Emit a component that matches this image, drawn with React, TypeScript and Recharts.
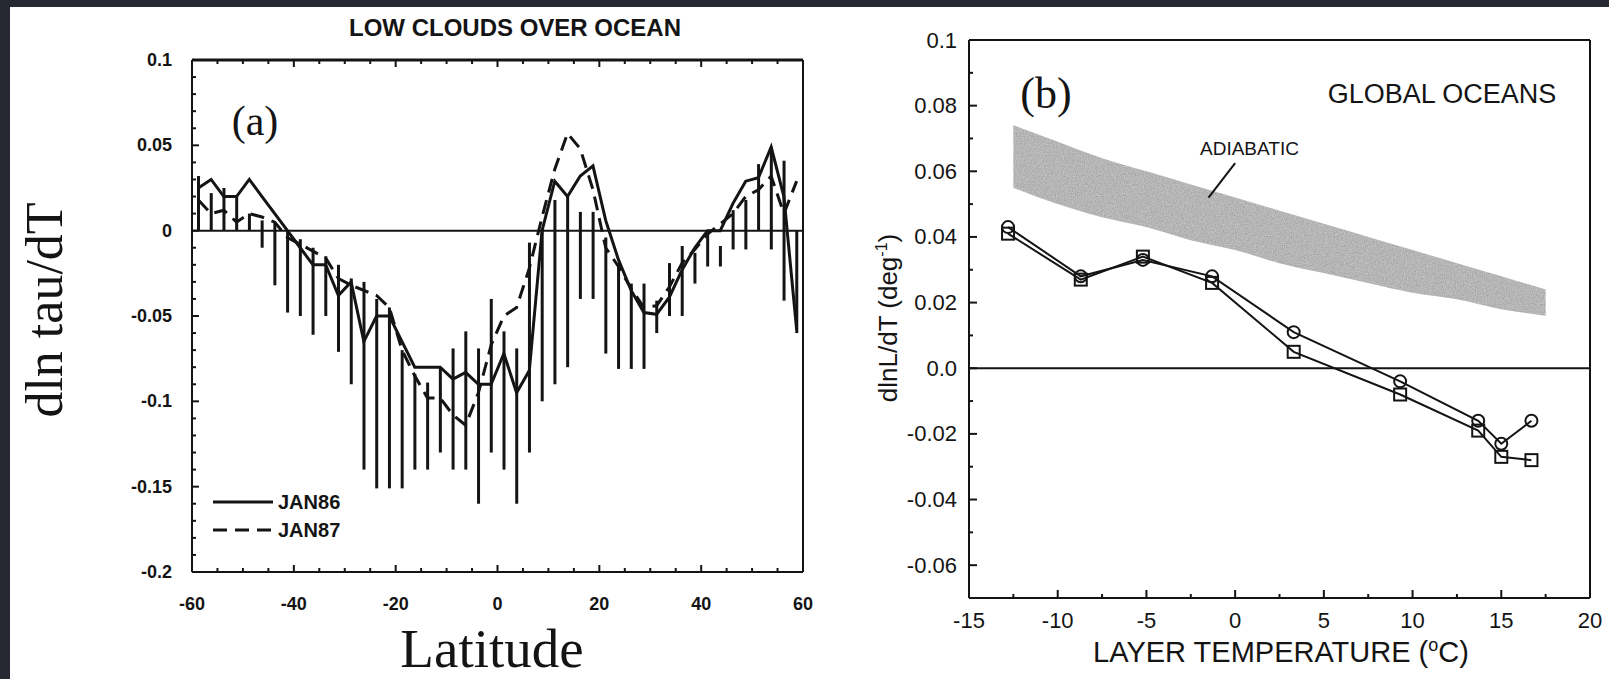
import React from "react";
import { ComposedChart, Line, Bar, Area, XAxis, YAxis, ReferenceLine, Legend } from "recharts";

// ---- panel (a): low clouds over ocean ----
const latitudes = [
  -58.75, -56.25, -53.75, -51.25, -48.75, -46.25, -43.75, -41.25, -38.75, -36.25, -33.75, -31.25,
  -28.75, -26.25, -23.75, -21.25, -18.75, -16.25, -13.75, -11.25, -8.75, -6.25, -3.75, -1.25,
  1.25, 3.75, 6.25, 8.75, 11.25, 13.75, 16.25, 18.75, 21.25, 23.75, 26.25, 28.75,
  31.25, 33.75, 36.25, 38.75, 41.25, 43.75, 46.25, 48.75, 51.25, 53.75, 56.25, 58.75,
];
const jan86 = [
  0.025, 0.03, 0.02, 0.02, 0.03, 0.02, 0.01, 0.0, -0.01, -0.02, -0.02, -0.038,
  -0.03, -0.065, -0.05, -0.05, -0.065, -0.08, -0.08, -0.08, -0.087, -0.083, -0.09, -0.09,
  -0.072, -0.095, -0.082, 0.0, 0.029, 0.02, 0.032, 0.038, 0.006, -0.017, -0.035, -0.048,
  -0.049, -0.039, -0.023, -0.01, 0.0, 0.0, 0.016, 0.029, 0.031, 0.049, 0.02, -0.058,
];
const jan87 = [
  0.018, 0.01, 0.012, 0.005, 0.01, 0.008, 0.005, -0.004, -0.008, -0.012, -0.016, -0.028,
  -0.032, -0.035, -0.038, -0.045, -0.07, -0.085, -0.098, -0.098, -0.108, -0.114, -0.095, -0.067,
  -0.05, -0.045, -0.022, 0.008, 0.036, 0.057, 0.048, 0.024, -0.01, -0.021, -0.034, -0.045,
  -0.044, -0.033, -0.019, -0.011, -0.002, 0.004, 0.01, 0.02, 0.024, 0.032, 0.01, 0.029,
];
const rangeTop = [
  0.032, 0.022, 0.025, 0.02, 0.01, 0.006, 0.005, 0.0, -0.005, -0.01, -0.015, -0.02,
  -0.028, -0.03, -0.04, -0.045, -0.07, -0.084, -0.089, -0.08, -0.069, -0.059, -0.069, -0.04,
  -0.059, -0.069, -0.007, 0.001, 0.018, 0.02, 0.011, 0.011, -0.004, -0.019, -0.031, -0.031,
  -0.041, -0.019, -0.009, -0.013, -0.002, -0.009, 0.012, 0.018, 0.039, 0.049, 0.041, 0.0,
];
const rangeBottom = [
  0.0, 0.0, 0.0, 0.0, 0.0, -0.01, -0.032, -0.048, -0.05, -0.061, -0.05, -0.071,
  -0.09, -0.14, -0.151, -0.151, -0.151, -0.14, -0.14, -0.13, -0.14, -0.14, -0.16, -0.13,
  -0.14, -0.16, -0.13, -0.1, -0.09, -0.08, -0.04, -0.04, -0.072, -0.081, -0.081, -0.081,
  -0.06, -0.05, -0.05, -0.031, -0.021, -0.021, -0.011, -0.011, 0.0, -0.011, -0.041, -0.06,
];
const seriesNamesA = ["JAN86", "JAN87"];
const latTicks = [-60, -55, -50, -45, -40, -35, -30, -25, -20, -15, -10, -5, 0, 5, 10, 15, 20, 25, 30, 35, 40, 45, 50, 55, 60];
const latMajor = [-60, -40, -20, 0, 20, 40, 60];
const latLabels = ["-60", "-40", "-20", "0", "20", "40", "60"];
const tauTicks = [
  0.1, 0.09, 0.08, 0.07, 0.06, 0.05, 0.04, 0.03, 0.02, 0.01, 0, -0.01, -0.02, -0.03, -0.04, -0.05,
  -0.06, -0.07, -0.08, -0.09, -0.1, -0.11, -0.12, -0.13, -0.14, -0.15, -0.16, -0.17, -0.18, -0.19, -0.2,
];
const tauMajor = [0.1, 0.05, 0, -0.05, -0.1, -0.15, -0.2];
const tauLabels = ["0.1", "0.05", "0", "-0.05", "-0.1", "-0.15", "-0.2"];

// ---- panel (b): global oceans ----
const layerTemps = [-12.8, -8.7, -5.2, -1.3, 3.3, 9.3, 13.7, 15.0, 16.7];
const circleSeries = [0.043, 0.028, 0.033, 0.028, 0.011, -0.004, -0.016, -0.023, -0.016];
const squareSeries = [0.041, 0.027, 0.034, 0.026, 0.005, -0.008, -0.019, -0.027, -0.028];
const adiabaticTemps = [-12.5, -10, -7.5, -5, -2.5, 0, 2.5, 5, 7.5, 10, 12.5, 15, 17.5];
const adiabaticUpper = [0.074, 0.069, 0.064, 0.06, 0.056, 0.052, 0.048, 0.044, 0.04, 0.036, 0.032, 0.028, 0.024];
const adiabaticLower = [0.055, 0.05, 0.046, 0.043, 0.039, 0.036, 0.032, 0.029, 0.026, 0.023, 0.021, 0.018, 0.016];
const arrowAdiabatic = [
  { x: 0.0, y: 0.0625 },
  { x: -1.5, y: 0.052 },
];
const tempTicks = [-15, -12.5, -10, -7.5, -5, -2.5, 0, 2.5, 5, 7.5, 10, 12.5, 15, 17.5, 20];
const tempMajor = [-15, -10, -5, 0, 5, 10, 15, 20];
const tempLabels = ["-15", "-10", "-5", "0", "5", "10", "15", "20"];
const lnTicks = [0.1, 0.09, 0.08, 0.07, 0.06, 0.05, 0.04, 0.03, 0.02, 0.01, 0, -0.01, -0.02, -0.03, -0.04, -0.05, -0.06, -0.07];
const lnMajor = [0.1, 0.08, 0.06, 0.04, 0.02, 0, -0.02, -0.04, -0.06];
const lnLabels = ["0.1", "0.08", "0.06", "0.04", "0.02", "0.0", "-0.02", "-0.04", "-0.06"];

const dataA = latitudes.map((lat, i) => ({
  lat,
  jan86: jan86[i],
  jan87: jan87[i],
  range: [rangeBottom[i], rangeTop[i]],
}));
const obsData = layerTemps.map((t, i) => ({ t, circ: circleSeries[i], sq: squareSeries[i] }));
const bandData = adiabaticTemps.map((t, i) => ({ t, band: [adiabaticLower[i], adiabaticUpper[i]] }));

const INK = "#141414";
const near = (a: number, b: number) => Math.abs(a - b) < 1e-9;

function makeTick(
  side: "bottom" | "top" | "left" | "right",
  majors: number[],
  labels: string[] | null,
  majorLen: number,
  minorLen: number,
  gap: number,
  fontSize: number,
  fontWeight: number | string
) {
  return (props: any) => {
    const { x, y, payload } = props;
    const idx = majors.findIndex((m) => near(m, payload.value));
    const len = idx >= 0 ? majorLen : minorLen;
    let line;
    if (side === "bottom") line = <line x1={x} y1={y} x2={x} y2={y - len} />;
    else if (side === "top") line = <line x1={x} y1={y} x2={x} y2={y + len} />;
    else if (side === "left") line = <line x1={x} y1={y} x2={x + len} y2={y} />;
    else line = <line x1={x} y1={y} x2={x - len} y2={y} />;
    let label = null;
    if (idx >= 0 && labels) {
      const common = {
        fill: INK,
        stroke: "none",
        fontSize,
        fontWeight,
        fontFamily: "'Liberation Sans', Arial, sans-serif",
      };
      if (side === "bottom")
        label = (
          <text x={x} y={y + gap} textAnchor="middle" dominantBaseline="central" {...common}>
            {labels[idx]}
          </text>
        );
      if (side === "left")
        label = (
          <text x={x - gap} y={y} textAnchor="end" dominantBaseline="central" {...common}>
            {labels[idx]}
          </text>
        );
    }
    return (
      <g>
        <g stroke={INK} strokeWidth={2}>{line}</g>
        {label}
      </g>
    );
  };
}

const circleDot = (p: any) => (
  <circle key={`c-${p.index}`} cx={p.cx} cy={p.cy} r={6} fill="none" stroke={INK} strokeWidth={2} />
);
const squareDot = (p: any) => (
  <rect key={`s-${p.index}`} x={p.cx - 6} y={p.cy - 6} width={12} height={12} fill="none" stroke={INK} strokeWidth={2} />
);

const legendA = () => (
  <svg width={160} height={60}>
    <line x1={5} y1={12} x2={65} y2={12} stroke={INK} strokeWidth={3} />
    <line x1={5} y1={40} x2={65} y2={40} stroke={INK} strokeWidth={3} strokeDasharray="14 8" />
    <text x={70} y={12} dominantBaseline="central" fontSize={20} fontWeight={700} fill={INK} fontFamily="'Liberation Sans', Arial, sans-serif">
      {seriesNamesA[0]}
    </text>
    <text x={70} y={40} dominantBaseline="central" fontSize={20} fontWeight={700} fill={INK} fontFamily="'Liberation Sans', Arial, sans-serif">
      {seriesNamesA[1]}
    </text>
  </svg>
);

const abs = (s: React.CSSProperties): React.CSSProperties => ({ position: "absolute", whiteSpace: "nowrap", color: INK, ...s });

export default function App() {
  const sans = "'Liberation Sans', Arial, Helvetica, sans-serif";
  const serif = "'Liberation Serif', 'Times New Roman', serif";
  return (
    <div style={{ position: "absolute", left: 0, top: 0, width: 1609, height: 679, background: "#272832", overflow: "hidden" }}>
      <div style={{ position: "absolute", left: 10, top: 7, right: 0, bottom: 0, background: "#ffffff" }} />

      {/* panel (a) */}
      <div style={{ position: "absolute", left: 0, top: 0 }}>
        <ComposedChart width={830} height={679} data={dataA} margin={{ top: 50, right: 17, bottom: 97, left: 182 }}>
          <XAxis
            dataKey="lat"
            type="number"
            domain={[-60, 60]}
            ticks={latTicks}
            interval={0}
            height={10}
            tickSize={0}
            tickMargin={0}
            tickLine={false}
            axisLine={{ stroke: INK, strokeWidth: 2 }}
            tick={makeTick("bottom", latMajor, latLabels, 7, 4, 32, 18, 700)}
          />
          <XAxis
            xAxisId="top"
            orientation="top"
            dataKey="lat"
            type="number"
            domain={[-60, 60]}
            ticks={latTicks}
            interval={0}
            height={10}
            tickSize={0}
            tickMargin={0}
            tickLine={false}
            axisLine={{ stroke: INK, strokeWidth: 3 }}
            tick={makeTick("top", latMajor, null, 7, 4, 0, 18, 700)}
          />
          <YAxis
            type="number"
            domain={[-0.2, 0.1]}
            ticks={tauTicks}
            interval={0}
            width={10}
            tickSize={0}
            tickMargin={0}
            tickLine={false}
            axisLine={{ stroke: INK, strokeWidth: 2 }}
            tick={makeTick("left", tauMajor, tauLabels, 7, 4, 20, 18, 700)}
          />
          <YAxis
            yAxisId="right"
            orientation="right"
            type="number"
            domain={[-0.2, 0.1]}
            ticks={tauTicks}
            interval={0}
            width={10}
            tickSize={0}
            tickMargin={0}
            tickLine={false}
            axisLine={{ stroke: INK, strokeWidth: 2 }}
            tick={makeTick("right", tauMajor, null, 7, 4, 0, 18, 700)}
          />
          <ReferenceLine y={0} stroke={INK} strokeWidth={2} />
          <Bar dataKey="range" barSize={3} fill={INK} isAnimationActive={false} />
          <Line dataKey="jan87" type="linear" stroke={INK} strokeWidth={3} strokeDasharray="14 8" dot={false} isAnimationActive={false} />
          <Line dataKey="jan86" type="linear" stroke={INK} strokeWidth={3} dot={false} isAnimationActive={false} />
          <Legend
            content={legendA}
            layout="horizontal"
            verticalAlign="middle"
            align="center"
            wrapperStyle={{ position: "absolute", left: 208, top: 490, width: 160, height: 60 }}
          />
        </ComposedChart>
      </div>

      {/* panel (b) */}
      <div style={{ position: "absolute", left: 830, top: 0 }}>
        <ComposedChart width={779} height={679} margin={{ top: 30, right: 9, bottom: 71, left: 129 }}>
          <defs>
            <filter id="grain" x="0" y="0" width="100%" height="100%">
              <feTurbulence type="fractalNoise" baseFrequency="0.9" numOctaves="2" seed="4" result="noise" />
              <feColorMatrix in="noise" type="matrix" values="0 0 0 0 1  0 0 0 0 1  0 0 0 0 1  0 0 0 0.55 -0.1" result="speck" />
              <feComposite in="speck" in2="SourceGraphic" operator="in" result="spots" />
              <feMerge>
                <feMergeNode in="SourceGraphic" />
                <feMergeNode in="spots" />
              </feMerge>
            </filter>
          </defs>
          <XAxis
            dataKey="t"
            type="number"
            domain={[-15, 20]}
            ticks={tempTicks}
            interval={0}
            height={10}
            tickSize={0}
            tickMargin={0}
            tickLine={false}
            axisLine={{ stroke: INK, strokeWidth: 2 }}
            tick={makeTick("bottom", tempMajor, tempLabels, 8, 4, 22, 22, 400)}
            allowDataOverflow
          />
          <XAxis
            xAxisId="top"
            orientation="top"
            dataKey="t"
            type="number"
            domain={[-15, 20]}
            ticks={tempTicks}
            interval={0}
            height={10}
            tickSize={0}
            tickMargin={0}
            tickLine={false}
            axisLine={{ stroke: INK, strokeWidth: 2 }}
            tick={makeTick("top", tempMajor, null, 8, 4, 0, 22, 400)}
          />
          <YAxis
            type="number"
            domain={[-0.07, 0.1]}
            ticks={lnTicks}
            interval={0}
            width={10}
            tickSize={0}
            tickMargin={0}
            tickLine={false}
            axisLine={{ stroke: INK, strokeWidth: 2 }}
            tick={makeTick("left", lnMajor, lnLabels, 8, 4, 12, 22, 400)}
            allowDataOverflow
          />
          <YAxis
            yAxisId="right"
            orientation="right"
            type="number"
            domain={[-0.07, 0.1]}
            ticks={lnTicks}
            interval={0}
            width={10}
            tickSize={0}
            tickMargin={0}
            tickLine={false}
            axisLine={{ stroke: INK, strokeWidth: 2 }}
            tick={makeTick("right", lnMajor, null, 8, 4, 0, 22, 400)}
          />
          <Area
            data={bandData}
            dataKey="band"
            type="monotone"
            stroke="none"
            fill="#9c9c9c"
            fillOpacity={0.95}
            filter="url(#grain)"
            isAnimationActive={false}
          />
          <ReferenceLine y={0} stroke={INK} strokeWidth={2} />
          <ReferenceLine segment={arrowAdiabatic} stroke={INK} strokeWidth={2} />
          <Line data={obsData} dataKey="sq" type="linear" stroke={INK} strokeWidth={2} dot={squareDot} isAnimationActive={false} />
          <Line data={obsData} dataKey="circ" type="linear" stroke={INK} strokeWidth={2} dot={circleDot} isAnimationActive={false} />
        </ComposedChart>
      </div>

      {/* texts */}
      <div style={abs({ left: 515, top: 28, transform: "translate(-50%,-50%)", fontFamily: sans, fontWeight: 700, fontSize: 24 })}>
        LOW CLOUDS OVER OCEAN
      </div>
      <div style={abs({ left: 255, top: 121, transform: "translate(-50%,-50%)", fontFamily: serif, fontSize: 42 })}>(a)</div>
      <div style={abs({ left: 44, top: 310, transform: "translate(-50%,-50%) rotate(-90deg)", fontFamily: serif, fontSize: 52 })}>
        dln tau/dT
      </div>
      <div style={abs({ left: 492, top: 648, transform: "translate(-50%,-50%)", fontFamily: serif, fontSize: 55 })}>Latitude</div>

      <div style={abs({ left: 1046, top: 93, transform: "translate(-50%,-50%)", fontFamily: serif, fontSize: 44 })}>(b)</div>
      <div style={abs({ left: 1442, top: 94, transform: "translate(-50%,-50%)", fontFamily: sans, fontSize: 27 })}>GLOBAL OCEANS</div>
      <div style={abs({ left: 1200, top: 149, transform: "translateY(-50%)", fontFamily: sans, fontSize: 19 })}>ADIABATIC</div>
      <div style={abs({ left: 888, top: 318, transform: "translate(-50%,-50%) rotate(-90deg)", fontFamily: sans, fontSize: 26 })}>
        dlnL/dT (deg<sup style={{ fontSize: 16 }}>-1</sup>)
      </div>
      <div style={abs({ left: 1281, top: 652, transform: "translate(-50%,-50%)", fontFamily: sans, fontSize: 29 })}>
        LAYER TEMPERATURE (<sup style={{ fontSize: 18 }}>o</sup>C)
      </div>
    </div>
  );
}
